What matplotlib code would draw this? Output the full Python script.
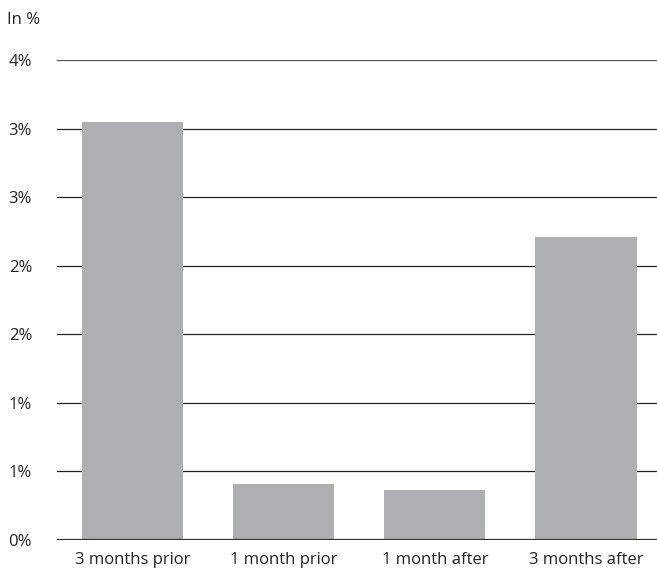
import matplotlib.pyplot as plt
import numpy as np

categories = ['3 months prior', '1 month prior', '1 month after', '3 months after']
values = [3.05, 0.41, 0.365, 2.21]
yticks = [0, 0.5, 1.0, 1.5, 2.0, 2.5, 3.0, 3.5]
ytick_labels = ['0%', '1%', '1%', '2%', '2%', '3%', '3%', '4%']

plt.rcParams['font.family'] = ['Open Sans', 'DejaVu Sans']

fig = plt.figure(figsize=(6.57, 5.71), dpi=100)
ax = fig.add_axes([57/657, 31/571, 600/657, 480/571])

x = np.arange(len(categories))
for yv in yticks[1:]:
    ax.axhline(yv, color='#222222' if yv < 3.5 else '#555555', linewidth=0.9, zorder=1)
ax.bar(x, values, width=0.67, color='#aeafb3', zorder=2)
ax.axhline(0, color='#333333', linewidth=1.6, zorder=3)

ax.set_xlim(-0.5, 3.47)
ax.set_ylim(0, 3.5)
ax.set_yticks(yticks)
ax.set_yticklabels(ytick_labels)
ax.set_xticks(x)
ax.set_xticklabels(categories)
ax.tick_params(axis='both', length=0, labelsize=12, colors='#222222')
ax.tick_params(axis='y', pad=18)
ax.tick_params(axis='x', pad=9)
for s in ax.spines.values():
    s.set_visible(False)

fig.text(7/657, 1 - 20/571, 'In %', fontsize=12, color='#222222', va='center', ha='left')

fig.savefig('out.png', dpi=100)
